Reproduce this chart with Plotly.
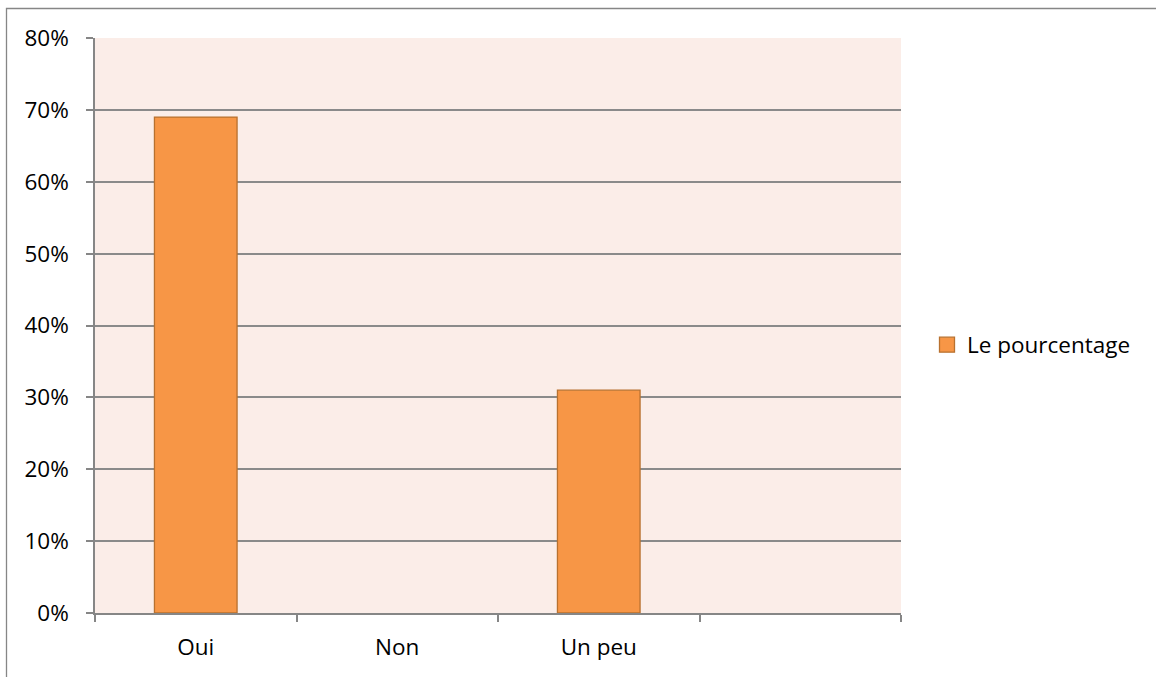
import plotly.graph_objects as go

categories = ["Oui", "Non", "Un peu", " "]
values = [0.69, 0.0, 0.31, None]
series_name = "Le pourcentage"
y_ticks = [0, 0.1, 0.2, 0.3, 0.4, 0.5, 0.6, 0.7, 0.8]

W, H = 1156, 677
L, R, T, B = 95, 255, 38, 64
pw, ph = W - L - R, H - T - B

def px_x(x):
    return (x - L) / pw

def px_y(y):
    return (H - B - y) / ph

bar_color = "#F79646"
edge_color = "#B8712F"

fig = go.Figure()
fig.add_trace(go.Bar(
    x=categories, y=values, name=series_name, width=0.41,
    marker=dict(color=bar_color,
                line=dict(color=edge_color,
                          width=[1.3 if (v or 0) > 0 else 0 for v in values])),
    showlegend=False,
))
# legend entry with a larger square symbol
fig.add_trace(go.Scatter(
    x=[None], y=[None], mode="markers", name=series_name,
    marker=dict(symbol="square", size=15, color=bar_color,
                line=dict(color=edge_color, width=1.3)),
    showlegend=True,
))

font = dict(family="Open Sans", size=22.5, color="#000000")

fig.update_layout(
    width=W, height=H,
    margin=dict(l=L, r=R, t=T, b=B),
    paper_bgcolor="white",
    plot_bgcolor="#FBEDE8",
    font=font,
    bargap=0.59,
    showlegend=True,
    legend=dict(x=px_x(927), y=px_y(345), xanchor="left", yanchor="middle",
                font=font, bgcolor="rgba(0,0,0,0)"),
    xaxis=dict(
        type="category", tickson="boundaries", ticks="outside", ticklen=7,
        tickcolor="#868686", tickwidth=1.5, showgrid=False,
        showline=True, linecolor="#868686", linewidth=1.5,
        range=[-0.5, 3.5], ticklabelstandoff=13,
    ),
    yaxis=dict(
        range=[0, 0.8], tickvals=y_ticks, tickformat=".0%",
        ticks="outside", ticklen=7, tickcolor="#868686", tickwidth=1.5,
        showgrid=True, gridcolor="#8A8A8A", gridwidth=1.5,
        showline=True, linecolor="#868686", linewidth=1.5,
        zeroline=False, ticklabelstandoff=13,
    ),
    shapes=[dict(
        type="rect", xref="paper", yref="paper",
        x0=px_x(6.5), x1=px_x(1170), y0=px_y(8.5), y1=px_y(700),
        line=dict(color="#868686", width=1.3), fillcolor="rgba(0,0,0,0)",
        layer="below",
    )],
)

fig.write_html("out.html")
